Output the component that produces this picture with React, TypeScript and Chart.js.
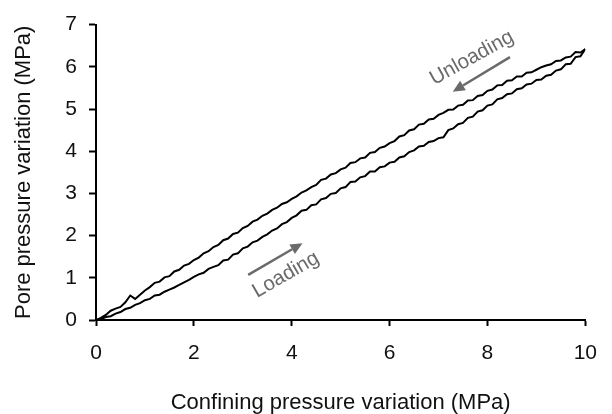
import React, { useEffect, useRef } from "react";
import { Chart, registerables } from "chart.js";

Chart.register(...registerables);

// ---- Data ----
const loadingX = [
  0.0, 0.1, 0.2, 0.3, 0.4, 0.5, 0.6, 0.7, 0.8, 0.9,
  1.0, 1.1, 1.2, 1.3, 1.4, 1.5, 1.6, 1.7, 1.8, 1.9,
  2.0, 2.1, 2.2, 2.3, 2.4, 2.5, 2.6, 2.7, 2.8, 2.9,
  3.0, 3.1, 3.2, 3.3, 3.4, 3.5, 3.6, 3.7, 3.8, 3.9,
  4.0, 4.1, 4.2, 4.3, 4.4, 4.5, 4.6, 4.7, 4.8, 4.9,
  5.0, 5.1, 5.2, 5.3, 5.4, 5.5, 5.6, 5.7, 5.8, 5.9,
  6.0, 6.1, 6.2, 6.3, 6.4, 6.5, 6.6, 6.7, 6.8, 6.9,
  7.0, 7.1, 7.2, 7.3, 7.4, 7.5, 7.6, 7.7, 7.8, 7.9,
  8.0, 8.1, 8.2, 8.3, 8.4, 8.5, 8.6, 8.7, 8.8, 8.9,
  9.0, 9.1, 9.2, 9.3, 9.4, 9.5, 9.6, 9.7, 9.8, 9.9,
  10.0,
];
const loadingY = [
  0.00, 0.02, 0.07, 0.09, 0.15, 0.19, 0.26, 0.29, 0.36, 0.40,
  0.47, 0.50, 0.58, 0.60, 0.67, 0.72, 0.77, 0.83, 0.89, 0.95,
  1.02, 1.08, 1.12, 1.21, 1.26, 1.30, 1.41, 1.43, 1.55, 1.58,
  1.70, 1.74, 1.84, 1.88, 1.97, 2.03, 2.12, 2.17, 2.27, 2.32,
  2.42, 2.48, 2.59, 2.61, 2.72, 2.74, 2.86, 2.89, 2.99, 3.01,
  3.12, 3.15, 3.27, 3.28, 3.38, 3.41, 3.52, 3.52, 3.62, 3.64,
  3.73, 3.75, 3.85, 3.88, 3.98, 4.02, 4.11, 4.13, 4.22, 4.24,
  4.31, 4.33, 4.50, 4.54, 4.64, 4.67, 4.79, 4.82, 4.94, 4.97,
  5.08, 5.11, 5.23, 5.26, 5.35, 5.37, 5.47, 5.49, 5.58, 5.60,
  5.69, 5.70, 5.79, 5.81, 5.91, 5.94, 6.06, 6.07, 6.23, 6.25,
  6.42,
];
const unloadingX = [
  10.0, 9.9, 9.8, 9.7, 9.6, 9.5, 9.4, 9.3, 9.2, 9.1,
  9.0, 8.9, 8.8, 8.7, 8.6, 8.5, 8.4, 8.3, 8.2, 8.1,
  8.0, 7.9, 7.8, 7.7, 7.6, 7.5, 7.4, 7.3, 7.2, 7.1,
  7.0, 6.9, 6.8, 6.7, 6.6, 6.5, 6.4, 6.3, 6.2, 6.1,
  6.0, 5.9, 5.8, 5.7, 5.6, 5.5, 5.4, 5.3, 5.2, 5.1,
  5.0, 4.9, 4.8, 4.7, 4.6, 4.5, 4.4, 4.3, 4.2, 4.1,
  4.0, 3.9, 3.8, 3.7, 3.6, 3.5, 3.4, 3.3, 3.2, 3.1,
  3.0, 2.9, 2.8, 2.7, 2.6, 2.5, 2.4, 2.3, 2.2, 2.1,
  2.0, 1.9, 1.8, 1.7, 1.6, 1.5, 1.4, 1.3, 1.2, 1.1,
  1.0, 0.9, 0.8, 0.7, 0.6, 0.5, 0.4, 0.3, 0.2, 0.1,
  0.0,
];
const unloadingY = [
  6.42, 6.34, 6.35, 6.24, 6.22, 6.15, 6.14, 6.06, 6.03, 5.99,
  5.93, 5.87, 5.86, 5.77, 5.77, 5.68, 5.67, 5.57, 5.56, 5.46,
  5.43, 5.33, 5.31, 5.21, 5.20, 5.10, 5.08, 4.99, 4.98, 4.91,
  4.86, 4.77, 4.75, 4.65, 4.63, 4.52, 4.49, 4.38, 4.35, 4.24,
  4.19, 4.11, 4.08, 3.98, 3.96, 3.85, 3.83, 3.74, 3.72, 3.61,
  3.57, 3.48, 3.45, 3.35, 3.32, 3.20, 3.15, 3.07, 3.02, 2.93,
  2.87, 2.79, 2.75, 2.66, 2.61, 2.52, 2.47, 2.38, 2.33, 2.23,
  2.18, 2.07, 2.04, 1.93, 1.89, 1.78, 1.73, 1.63, 1.58, 1.48,
  1.42, 1.33, 1.29, 1.19, 1.15, 1.04, 1.01, 0.91, 0.88, 0.78,
  0.70, 0.60, 0.50, 0.58, 0.42, 0.31, 0.27, 0.22, 0.12, 0.05,
  0.00,
];

const xTickValues = [0, 2, 4, 6, 8, 10];
const yTickValues = [0, 1, 2, 3, 4, 5, 6, 7];

const xTitle = "Confining pressure variation (MPa)";
const yTitle = "Pore pressure variation (MPa)";

// Annotations (data coordinates)
const loadingArrow = [3.11, 1.07, 4.22, 1.82];
const unloadingArrow = [8.46, 6.23, 7.29, 5.41];
const loadingLabel = { text: "Loading", x: 3.88, y: 1.07, angle: -30 };
const unloadingLabel = { text: "Unloading", x: 7.68, y: 6.21, angle: -29 };

const FONT = "'Liberation Sans', Arial, sans-serif";
const GRAY = "#6a6a6a";

const annotationPlugin = {
  id: "arrowsAndLabels",
  afterDatasetsDraw(chart: any) {
    const { ctx, scales } = chart;
    const xs = scales.x;
    const ys = scales.y;
    const drawArrow = (a: number[]) => {
      const x1 = xs.getPixelForValue(a[0]);
      const y1 = ys.getPixelForValue(a[1]);
      const x2 = xs.getPixelForValue(a[2]);
      const y2 = ys.getPixelForValue(a[3]);
      const ang = Math.atan2(y2 - y1, x2 - x1);
      const headLen = 12;
      const headHalf = 5.5;
      const bx = x2 - headLen * Math.cos(ang);
      const by = y2 - headLen * Math.sin(ang);
      ctx.save();
      ctx.strokeStyle = GRAY;
      ctx.fillStyle = GRAY;
      ctx.lineWidth = 2.5;
      ctx.beginPath();
      ctx.moveTo(x1, y1);
      ctx.lineTo(bx, by);
      ctx.stroke();
      ctx.beginPath();
      ctx.moveTo(x2, y2);
      ctx.lineTo(bx + headHalf * Math.sin(ang), by - headHalf * Math.cos(ang));
      ctx.lineTo(bx - headHalf * Math.sin(ang), by + headHalf * Math.cos(ang));
      ctx.closePath();
      ctx.fill();
      ctx.restore();
    };
    const drawLabel = (l: { text: string; x: number; y: number; angle: number }) => {
      const px = xs.getPixelForValue(l.x);
      const py = ys.getPixelForValue(l.y);
      ctx.save();
      ctx.translate(px, py);
      ctx.rotate((l.angle * Math.PI) / 180);
      ctx.font = `20.5px ${FONT}`;
      ctx.fillStyle = GRAY;
      ctx.textAlign = "center";
      ctx.textBaseline = "middle";
      ctx.fillText(l.text, 0, 0);
      ctx.restore();
    };
    drawArrow(loadingArrow);
    drawArrow(unloadingArrow);
    drawLabel(loadingLabel);
    drawLabel(unloadingLabel);
  },
};

export default function App() {
  const canvasRef = useRef<HTMLCanvasElement | null>(null);

  useEffect(() => {
    document.body.style.margin = "0";
    const canvas = canvasRef.current;
    if (!canvas) return;

    const loadingData = loadingX.map((x, i) => ({ x, y: loadingY[i] }));
    const unloadingData = unloadingX.map((x, i) => ({ x, y: unloadingY[i] }));

    const chart = new Chart(canvas, {
      type: "line",
      data: {
        datasets: [
          {
            label: "Loading",
            data: loadingData,
            borderColor: "#000",
            borderWidth: 2,
            pointRadius: 0,
            tension: 0,
            fill: false,
          },
          {
            label: "Unloading",
            data: unloadingData,
            borderColor: "#000",
            borderWidth: 2,
            pointRadius: 0,
            tension: 0,
            fill: false,
          },
        ],
      },
      options: {
        responsive: false,
        animation: false,
        devicePixelRatio: 1,
        layout: { padding: { left: 0, top: 20, right: 21, bottom: 0 } },
        plugins: {
          legend: { display: false },
          tooltip: { enabled: false },
        },
        scales: {
          x: {
            type: "linear",
            min: 0,
            max: 10,
            afterBuildTicks: (scale: any) => {
              scale.ticks = xTickValues.map((v) => ({ value: v }));
            },
            afterFit: (scale: any) => {
              scale.height = 94;
            },
            ticks: {
              color: "#111",
              font: { family: FONT, size: 21 },
              padding: 15,
              maxRotation: 0,
              autoSkip: false,
            },
            grid: {
              drawOnChartArea: false,
              drawTicks: true,
              tickLength: 6,
              tickWidth: 2,
              tickColor: "#000",
            },
            border: { display: true, color: "#000", width: 2 },
            title: {
              display: true,
              text: xTitle,
              color: "#111",
              font: { family: FONT, size: 22, lineHeight: 1 },
              padding: { top: 0, bottom: 0 },
            },
          },
          y: {
            type: "linear",
            min: 0,
            max: 7,
            afterBuildTicks: (scale: any) => {
              scale.ticks = yTickValues.map((v) => ({ value: v }));
            },
            afterFit: (scale: any) => {
              scale.width = 96;
            },
            ticks: {
              color: "#111",
              font: { family: FONT, size: 21 },
              padding: 12,
              autoSkip: false,
            },
            grid: {
              drawOnChartArea: false,
              drawTicks: true,
              tickLength: 7,
              tickWidth: 2,
              tickColor: "#000",
            },
            border: { display: true, color: "#000", width: 2 },
            title: {
              display: true,
              text: yTitle,
              color: "#111",
              font: { family: FONT, size: 22, lineHeight: 1 },
              padding: { top: 13, bottom: 0 },
            },
          },
        },
      },
      plugins: [annotationPlugin],
    } as any);

    return () => {
      chart.destroy();
    };
  }, []);

  return <canvas ref={canvasRef} width={612} height={414} style={{ display: "block" }} />;
}
